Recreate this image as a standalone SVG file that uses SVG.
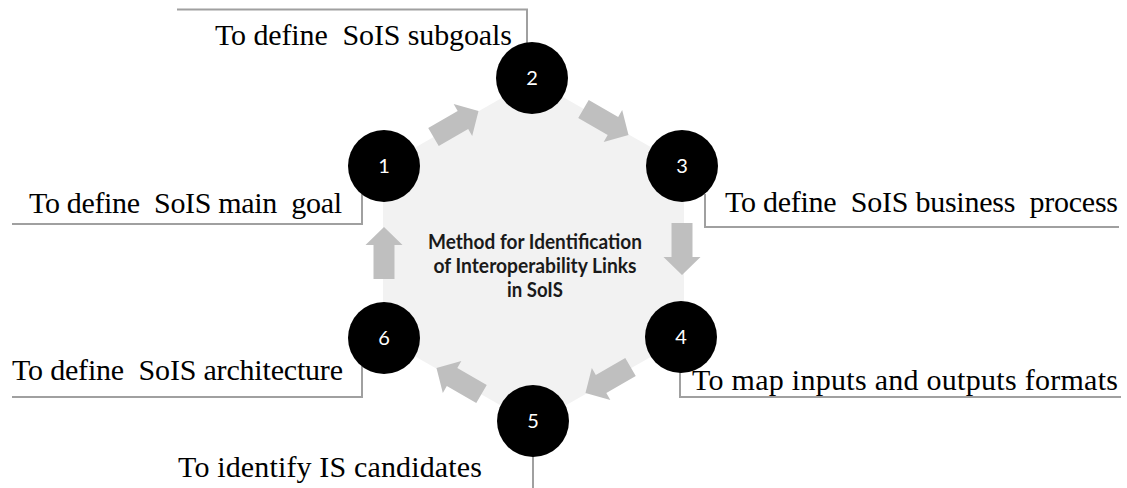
<svg xmlns="http://www.w3.org/2000/svg" width="1127" height="488" viewBox="0 0 1127 488">
  <defs>
    <style>
      .bg { fill: #f2f2f2; }
      .step { fill: #000000; }
      .num { fill: #ffffff; font-family: Lato, "Open Sans", "DejaVu Sans", sans-serif; font-size: 20px; text-anchor: middle; }
      .label { fill: #000000; font-family: "Liberation Serif", "Times New Roman", serif; font-size: 30px; white-space: pre; }
      .callout { fill: none; stroke: #a0a0a0; stroke-width: 2; }
      .title { fill: #1a1a1a; font-family: Lato, "Open Sans", "DejaVu Sans", sans-serif; font-size: 20px; font-weight: bold; text-anchor: middle; }
      .flow { fill: #bfbfbf; }
    </style>
    <!-- block arrow pointing along +x, centred on the origin -->
    <path id="blockArrow" d="M-26,-10.5 H8 V-18.5 L26,0 L8,18.5 V10.5 H-26 Z"/>
  </defs>

  <!-- hexagonal backdrop of the cycle -->
  <g id="backdrop">
    <polygon class="bg" points="533,80 684,166 684,338 533,424 383,338 383,166"/>
    <text class="title" x="535" y="249" textLength="214" lengthAdjust="spacingAndGlyphs">Method for Identification</text>
    <text class="title" x="535" y="273" textLength="203" lengthAdjust="spacingAndGlyphs">of Interoperability Links</text>
    <text class="title" x="535" y="297" textLength="56" lengthAdjust="spacingAndGlyphs">in SoIS</text>
  </g>

  <!-- cycle arrows between steps -->
  <g id="connectors">
    <use href="#blockArrow" class="flow" transform="translate(456,124) rotate(-30)"/>
    <use href="#blockArrow" class="flow" transform="translate(606,122) rotate(30)"/>
    <use href="#blockArrow" class="flow" transform="translate(682,249) rotate(90)"/>
    <use href="#blockArrow" class="flow" transform="translate(608,380) rotate(150)"/>
    <use href="#blockArrow" class="flow" transform="translate(459,381) rotate(210)"/>
    <use href="#blockArrow" class="flow" transform="translate(384,253) rotate(-90)"/>
  </g>

  <g id="step1">
    <path class="callout" d="M362,194 V224 H12"/>
    <circle class="step" cx="384" cy="166" r="36"/>
    <text class="num" x="384" y="173">1</text>
    <text class="label" x="29" y="213" textLength="313" lengthAdjust="spacing">To define  SoIS main  goal</text>
  </g>

  <g id="step2">
    <path class="callout" d="M177,9.5 H527 V43"/>
    <circle class="step" cx="532" cy="78" r="36"/>
    <text class="num" x="532" y="85">2</text>
    <text class="label" x="215" y="45" textLength="297" lengthAdjust="spacing">To define  SoIS subgoals</text>
  </g>

  <g id="step3">
    <path class="callout" d="M705,194 V227 H1119"/>
    <circle class="step" cx="682" cy="166" r="36"/>
    <text class="num" x="682" y="173">3</text>
    <text class="label" x="725" y="212" textLength="393" lengthAdjust="spacing">To define  SoIS business  process</text>
  </g>

  <g id="step4">
    <path class="callout" d="M680,372 V397 H1121"/>
    <circle class="step" cx="681" cy="337" r="36"/>
    <text class="num" x="681" y="344">4</text>
    <text class="label" x="692" y="390" textLength="426" lengthAdjust="spacing">To map inputs and outputs formats</text>
  </g>

  <g id="step5">
    <path class="callout" d="M533,456 V488"/>
    <circle class="step" cx="533" cy="421" r="36"/>
    <text class="num" x="533" y="428">5</text>
    <text class="label" x="178" y="477" textLength="304" lengthAdjust="spacing">To identify IS candidates</text>
  </g>

  <g id="step6">
    <path class="callout" d="M362,366 V397 H12"/>
    <circle class="step" cx="384" cy="338" r="36"/>
    <text class="num" x="384" y="345">6</text>
    <text class="label" x="12" y="380" textLength="331" lengthAdjust="spacing">To define  SoIS architecture</text>
  </g>
</svg>
